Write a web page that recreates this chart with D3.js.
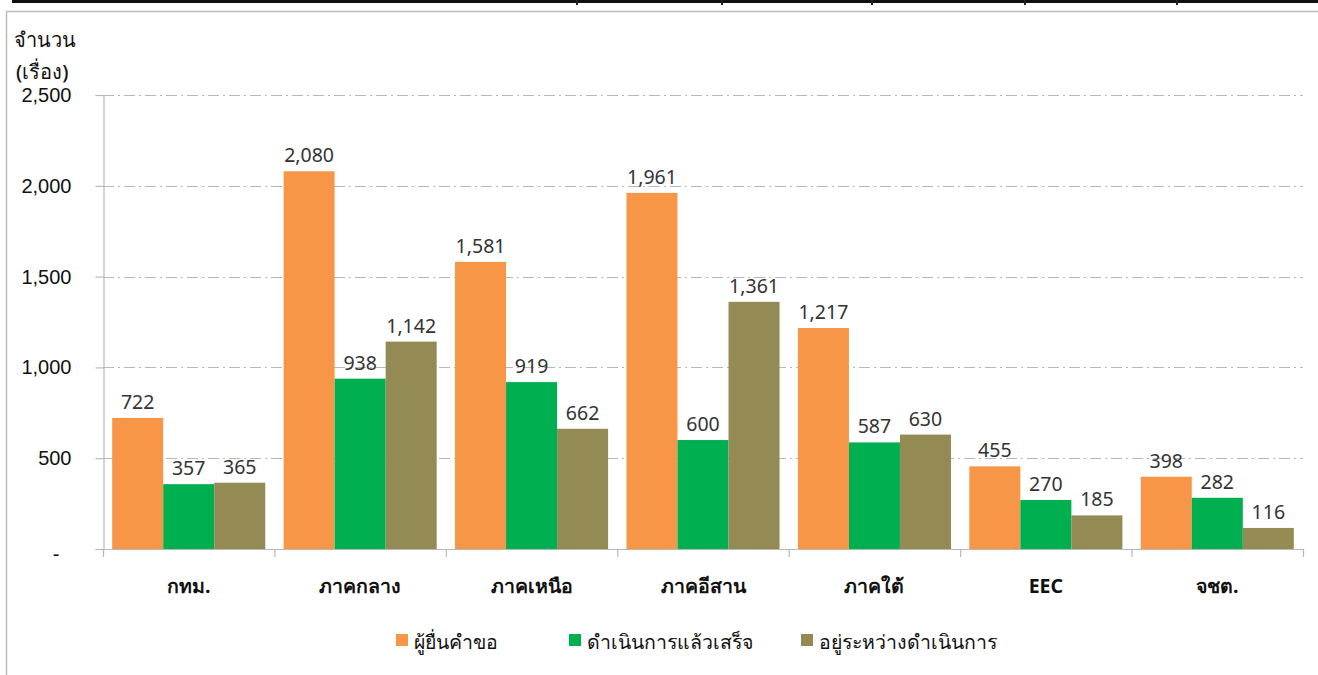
<!DOCTYPE html>
<html><head><meta charset="utf-8">
<script src="https://cdn.jsdelivr.net/npm/d3@7"></script>
<style>
html,body{margin:0;padding:0;background:#fff;}
svg{display:block;font-family:"Noto Sans","Tahoma","DejaVu Sans",sans-serif;}
</style></head>
<body><svg id="c" width="1318" height="675"></svg>
<script>
const categories = ["กทม.","ภาคกลาง","ภาคเหนือ","ภาคอีสาน","ภาคใต้","EEC","จชต."];
const seriesNames = ["ผู้ยื่นคำขอ","ดำเนินการแล้วเสร็จ","อยู่ระหว่างดำเนินการ"];
const requested = [722,2080,1581,1961,1217,455,398];
const completed = [357,938,919,600,587,270,282];
const inProgress = [365,1142,662,1361,630,185,116];
const yTicks = [0,500,1000,1500,2000,2500];
const colors = ["#F79646","#00B050","#948A54"];

const svg = d3.select("#c");
const seriesVals = [requested, completed, inProgress];
const fmt = d3.format(",");

// frame
svg.append("line").attr("x1",12).attr("x2",1318).attr("y1",1.5).attr("y2",1.5).attr("stroke","#111").attr("stroke-width",3);
[577,722,872,1025,1177].forEach(x=>svg.append("line").attr("x1",x).attr("x2",x).attr("y1",0).attr("y2",5).attr("stroke","#222").attr("stroke-width",2));
svg.append("line").attr("x1",6).attr("x2",1318).attr("y1",11.5).attr("y2",11.5).attr("stroke","#bbb").attr("stroke-width",1.5);
svg.append("line").attr("x1",6.5).attr("x2",6.5).attr("y1",11).attr("y2",675).attr("stroke","#bbb").attr("stroke-width",1.5);

const x0 = d3.scaleBand().domain(categories).range([103,1303]).paddingInner(0.107).paddingOuter(0.0535);
const x1 = d3.scaleBand().domain(d3.range(3)).range([0,x0.bandwidth()]);
const y = d3.scaleLinear().domain([0,2500]).range([549,95]);

// gridlines
svg.append("g").selectAll("line").data(yTicks.filter(t=>t>0)).join("line")
  .attr("x1",103).attr("x2",1303).attr("y1",d=>Math.round(y(d))+0.5).attr("y2",d=>Math.round(y(d))+0.5)
  .attr("stroke","#b8b8b8").attr("stroke-width",1.2).attr("stroke-dasharray","11,4,2,4");

// y axis
const ya = svg.append("g").attr("transform","translate(103.5,0)")
  .call(d3.axisLeft(y).tickValues(yTicks).tickSize(8).tickPadding(24).tickFormat(d=>d===0?"-":fmt(d)));
ya.select(".domain").attr("stroke","#b8b8b8").attr("stroke-width",1.2);
ya.selectAll(".tick line").attr("stroke","#b8b8b8").attr("stroke-width",1.2);
ya.selectAll(".tick text").attr("font-size",20).attr("fill","#111").attr("font-weight",500);
ya.selectAll(".tick").filter(d=>d===0).select("text").attr("dy","0.55em").attr("dx","-12");

// x axis baseline & ticks
svg.append("line").attr("x1",103).attr("x2",1303).attr("y1",549.5).attr("y2",549.5).attr("stroke","#b8b8b8").attr("stroke-width",1.2);
const step = x0.step();
svg.append("g").selectAll("line").data(d3.range(categories.length+1)).join("line")
  .attr("x1",i=>103.5+i*step).attr("x2",i=>103.5+i*step).attr("y1",549).attr("y2",557)
  .attr("stroke","#b8b8b8").attr("stroke-width",1.2);
svg.append("g").selectAll("text").data(categories).join("text")
  .attr("x",d=>x0(d)+x0.bandwidth()/2).attr("y",593).attr("text-anchor","middle")
  .attr("font-size",19.5).attr("font-weight","bold").attr("fill","#111").text(d=>d);

// bars
const groups = svg.append("g").selectAll("g").data(categories).join("g")
  .attr("transform",d=>`translate(${x0(d)},0)`);
groups.each(function(cat,ci){
  const g = d3.select(this);
  seriesVals.forEach((vals,si)=>{
    g.append("rect").attr("x",x1(si)).attr("width",x1.bandwidth())
      .attr("y",y(vals[ci])).attr("height",549-y(vals[ci])).attr("fill",colors[si]);
    g.append("text").attr("x",x1(si)+x1.bandwidth()/2).attr("y",y(vals[ci])-9)
      .attr("text-anchor","middle").attr("font-size",19.5).attr("fill","#333").text(fmt(vals[ci]));
  });
});

// y title
svg.append("text").attr("x",14).attr("y",47).attr("font-size",20).attr("font-weight",500).attr("fill","#111").text("จำนวน");
svg.append("text").attr("x",16).attr("y",79).attr("font-size",20).attr("font-weight",500).attr("fill","#111").text("(เรื่อง)");

// legend
const legX = [396,569,801];
seriesNames.forEach((n,i)=>{
  svg.append("rect").attr("x",legX[i]).attr("y",634).attr("width",12).attr("height",12).attr("fill",colors[i]);
  svg.append("text").attr("x",legX[i]+18).attr("y",649).attr("font-size",19.5).attr("font-weight",500).attr("fill","#111").text(n);
});
</script></body></html>
